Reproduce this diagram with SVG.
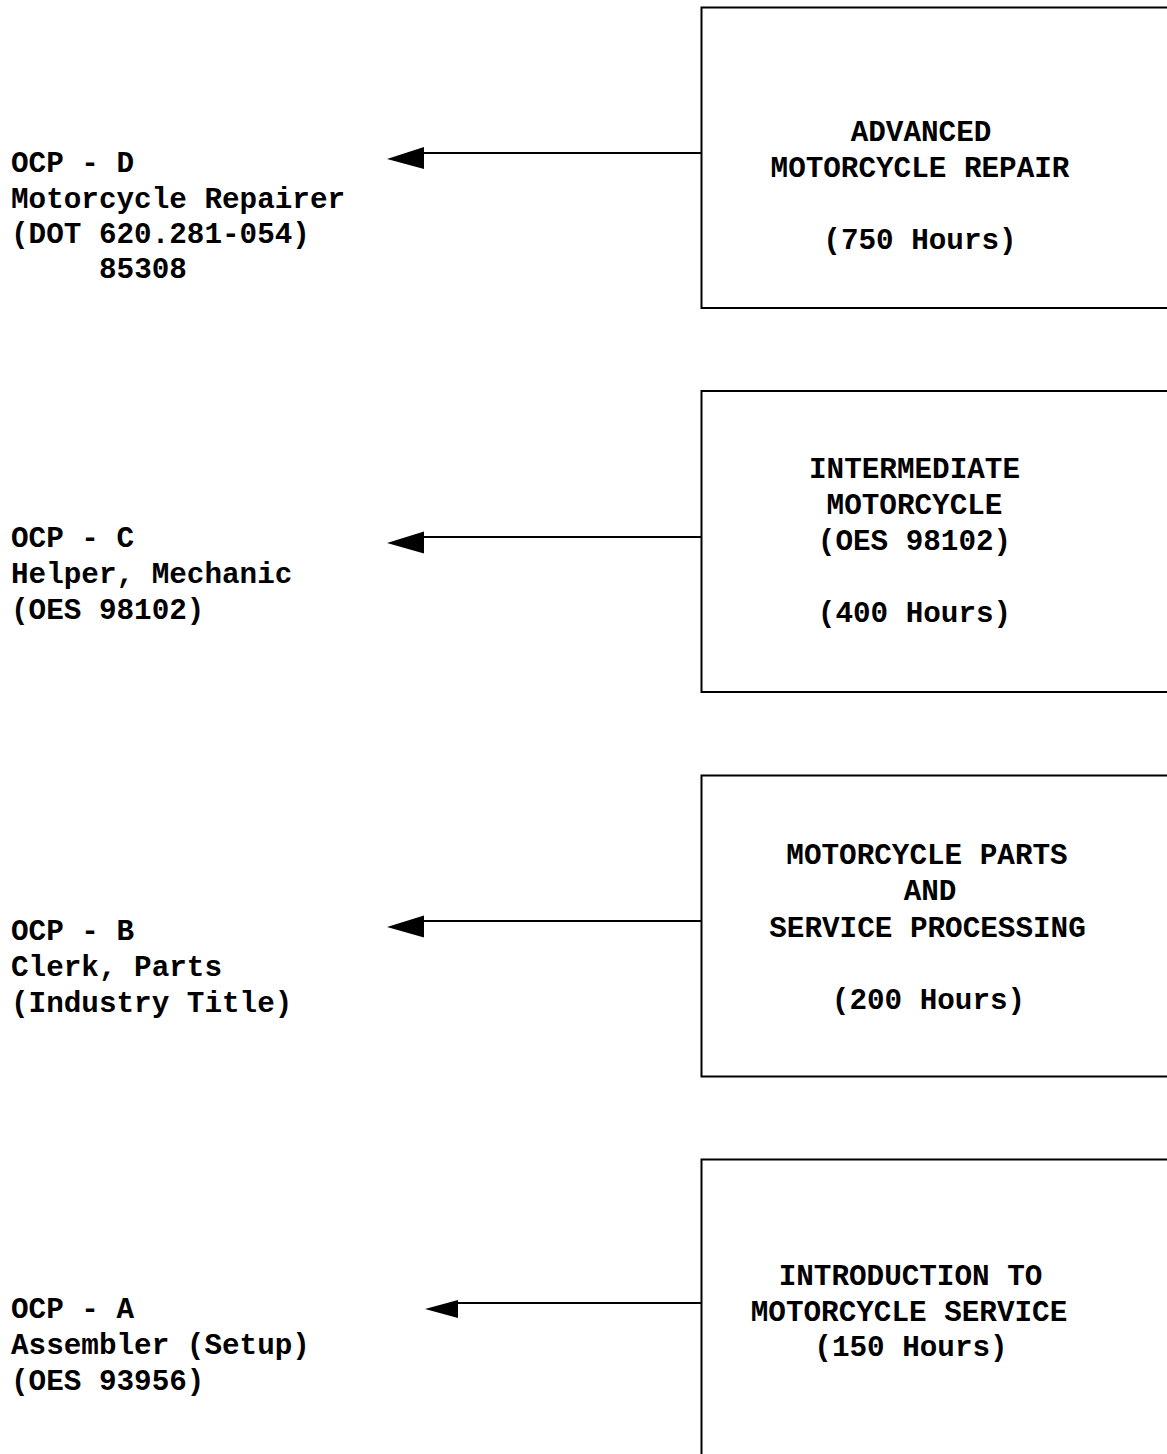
<svg xmlns="http://www.w3.org/2000/svg" width="1167" height="1454" viewBox="0 0 1167 1454">
<style>
text{font-family:"Liberation Mono","Courier New",monospace;font-weight:bold;font-size:29.3px;fill:#000}
.c{text-anchor:middle}
.box{fill:#fff;stroke:#000;stroke-width:2}
.ln{stroke:#000;stroke-width:2;fill:none}
.hd{fill:#000;stroke:none}
</style>
<rect x="0" y="0" width="1167" height="1454" fill="#fff"/>
<g id="connectors">
<line class="ln" x1="422" y1="153" x2="701" y2="153"/>
<polygon class="hd" points="387,159 424,147 424,169"/>
<line class="ln" x1="422" y1="537" x2="701" y2="537"/>
<polygon class="hd" points="387,543 424,531.5 424,553.5"/>
<line class="ln" x1="422" y1="921" x2="701" y2="921"/>
<polygon class="hd" points="387,927 424,915.5 424,937.5"/>
<line class="ln" x1="456" y1="1303" x2="701" y2="1303"/>
<polygon class="hd" points="425,1309 458,1300 458,1318"/>
</g>
<g id="box-d">
<rect class="box" x="701.5" y="7.5" width="480" height="300.5"/>
<text class="c" x="921" y="141">ADVANCED</text>
<text class="c" x="920" y="177">MOTORCYCLE REPAIR</text>
<text class="c" x="920" y="249">(750 Hours)</text>
</g>
<g id="box-c">
<rect class="box" x="701.5" y="391" width="480" height="301"/>
<text class="c" x="914.5" y="478">INTERMEDIATE</text>
<text class="c" x="914.5" y="514">MOTORCYCLE</text>
<text class="c" x="914.5" y="550">(OES 98102)</text>
<text class="c" x="914.5" y="622">(400 Hours)</text>
</g>
<g id="box-b">
<rect class="box" x="701.5" y="775.5" width="480" height="301"/>
<text class="c" x="927" y="864">MOTORCYCLE PARTS</text>
<text class="c" x="930" y="900">AND</text>
<text class="c" x="927.5" y="937">SERVICE PROCESSING</text>
<text class="c" x="928.5" y="1009">(200 Hours)</text>
</g>
<g id="box-a">
<rect class="box" x="701.5" y="1159.5" width="480" height="320"/>
<text class="c" x="910.5" y="1285">INTRODUCTION TO</text>
<text class="c" x="909" y="1321">MOTORCYCLE SERVICE</text>
<text class="c" x="911" y="1356">(150 Hours)</text>
</g>
<g id="label-d">
<text x="11" y="172">OCP - D</text>
<text x="11" y="207.5">Motorcycle Repairer</text>
<text x="11" y="243">(DOT 620.281-054)</text>
<text x="99" y="278">85308</text>
</g>
<g id="label-c">
<text x="11" y="547">OCP - C</text>
<text x="11" y="583">Helper, Mechanic</text>
<text x="11" y="619">(OES 98102)</text>
</g>
<g id="label-b">
<text x="11" y="940">OCP - B</text>
<text x="11" y="976">Clerk, Parts</text>
<text x="11" y="1012">(Industry Title)</text>
</g>
<g id="label-a">
<text x="11" y="1318">OCP - A</text>
<text x="11" y="1354">Assembler (Setup)</text>
<text x="11" y="1390">(OES 93956)</text>
</g>
</svg>
